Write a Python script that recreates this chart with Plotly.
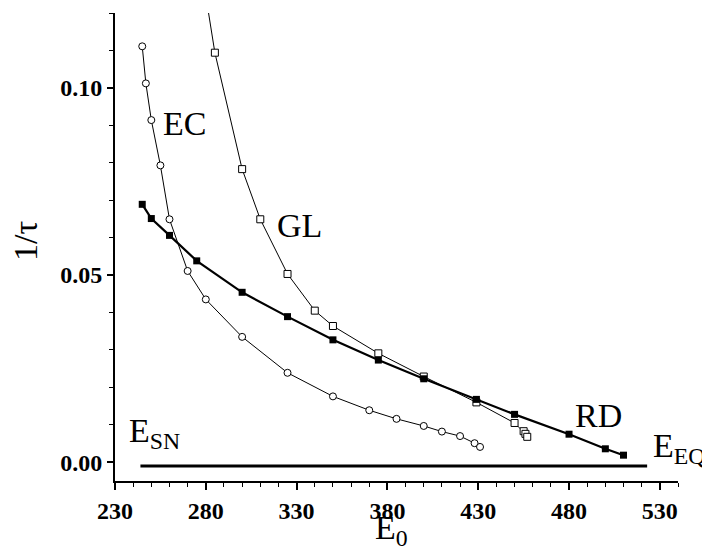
import plotly.graph_objects as go

# EC: open circles, thin line
ec_x = [245, 247, 250, 255, 260, 270, 280, 300, 325, 350, 370, 385, 400, 410, 420, 428, 431]
ec_y = [0.1111, 0.1012, 0.0914, 0.0793, 0.0649, 0.0511, 0.0435, 0.0335, 0.0239, 0.0176,
        0.0139, 0.0116, 0.0097, 0.0082, 0.0070, 0.0051, 0.0041]

# GL: open squares, thin line
gl_x = [280, 285, 300, 310, 325, 340, 350, 375, 400, 429, 450, 455, 456, 457]
gl_y = [0.1246, 0.1094, 0.0783, 0.0649, 0.0503, 0.0405, 0.0364, 0.0291, 0.0229, 0.0160,
        0.0105, 0.0083, 0.0076, 0.0068]

# RD: filled squares, thick line
rd_x = [245, 250, 260, 275, 300, 325, 350, 375, 400, 429, 450, 480, 500, 510]
rd_y = [0.0689, 0.0651, 0.0606, 0.0538, 0.0454, 0.0389, 0.0327, 0.0273, 0.0223, 0.0168,
        0.0128, 0.0075, 0.0036, 0.0019]

# baseline segment E_SN .. E_EQ
base_x = [244, 523]
base_y = [-0.001, -0.001]

x_ticks = [230, 280, 330, 380, 430, 480, 530]
y_ticks = [0.00, 0.05, 0.10]
y_tick_labels = ["0.00", "0.05", "0.10"]

FONT = "Liberation Serif"

fig = go.Figure()
fig.add_trace(go.Scatter(x=base_x, y=base_y, mode="lines",
                         line=dict(color="black", width=3), showlegend=False))
fig.add_trace(go.Scatter(x=ec_x, y=ec_y, mode="lines+markers",
                         line=dict(color="black", width=1),
                         marker=dict(symbol="circle", size=7, color="white",
                                     line=dict(color="black", width=1)),
                         showlegend=False))
fig.add_trace(go.Scatter(x=gl_x, y=gl_y, mode="lines+markers",
                         line=dict(color="black", width=1),
                         marker=dict(symbol="square", size=7, color="white",
                                     line=dict(color="black", width=1)),
                         showlegend=False))
fig.add_trace(go.Scatter(x=rd_x, y=rd_y, mode="lines+markers",
                         line=dict(color="black", width=2.2),
                         marker=dict(symbol="square", size=7, color="black",
                                     line=dict(color="black", width=0)),
                         showlegend=False))

lab = dict(family=FONT, size=34, color="black")
fig.add_annotation(x=268, y=0.0906, text="EC", showarrow=False, font=lab,
                   xanchor="center", yanchor="middle")
fig.add_annotation(x=331.5, y=0.0633, text="GL", showarrow=False, font=lab,
                   xanchor="center", yanchor="middle")
fig.add_annotation(x=496, y=0.01237, text="RD", showarrow=False, font=lab,
                   xanchor="center", yanchor="middle")
fig.add_annotation(x=236.6, y=0.0078, text="E<sub>SN</sub>", showarrow=False, font=lab,
                   xanchor="left", yanchor="middle")
fig.add_annotation(x=525.4, y=0.0037, text="E<sub>EQ</sub>", showarrow=False, font=lab,
                   xanchor="left", yanchor="middle")
fig.add_annotation(xref="paper", yref="paper", x=-0.158, y=0.513, text="1/τ",
                   showarrow=False, font=lab, textangle=-90,
                   xanchor="center", yanchor="middle")
fig.add_annotation(xref="paper", yref="paper", x=0.458, y=-0.105, text="E<sub>0</sub>",
                   showarrow=False, font=lab, xanchor="left", yanchor="middle")

tickfont = dict(family=FONT, size=24, color="black", weight="bold")
fig.update_xaxes(range=[230, 540], tickvals=x_ticks, ticks="outside", ticklen=7,
                 tickwidth=1.5, tickcolor="black", showline=True, linecolor="black",
                 linewidth=2, showgrid=False, zeroline=False, tickfont=tickfont,
                 minor=dict(ticks="outside", ticklen=4, tickwidth=1, tickcolor="black",
                            dtick=10, tick0=230, showgrid=False))
fig.update_yaxes(range=[-0.005, 0.12], tickvals=y_ticks, ticktext=y_tick_labels,
                 ticks="outside", ticklen=6, tickwidth=1.5, tickcolor="black",
                 showline=True, linecolor="black", linewidth=2, showgrid=False,
                 zeroline=False, tickfont=tickfont,
                 minor=dict(ticks="outside", ticklen=4, tickwidth=1, tickcolor="black",
                            dtick=0.01, tick0=0, showgrid=False))
fig.update_layout(width=702, height=551, margin=dict(l=115, r=24, t=13, b=70),
                  plot_bgcolor="white", paper_bgcolor="white",
                  font=dict(family=FONT, color="black"))
fig.write_html("out.html")
